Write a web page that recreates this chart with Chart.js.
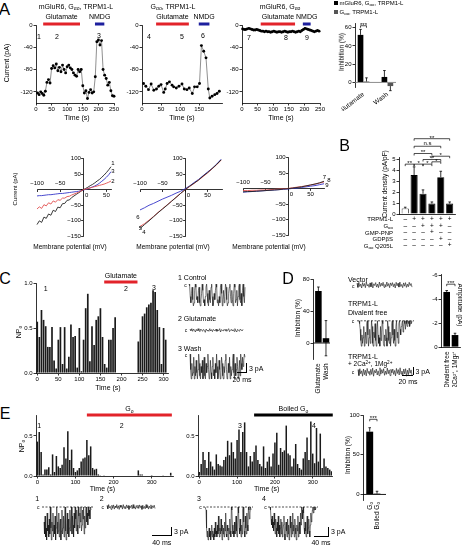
<!DOCTYPE html>
<html lang="en">
<head>
<meta charset="UTF-8">
<title>TRPM1-L currents</title>
<script src="https://cdn.jsdelivr.net/npm/chart.js"></script>
<style>
  html, body { margin: 0; padding: 0; background: #fff; }
  body { position: relative; width: 462px; height: 545px; overflow: hidden; font-family: 'Liberation Sans', Arial, sans-serif; }
  canvas { position: absolute; }
  .lbl { position: absolute; white-space: nowrap; line-height: 1; color: #000; }
  .lbl sub { font-size: 72%; vertical-align: -0.3em; line-height: 0; }
  .lbl sup { font-size: 72%; vertical-align: 0.45em; line-height: 0; }
  .ln { position: absolute; background: #000; }
</style>
</head>
<body>
<script>
// ---- A: holding current over time (s, pA) ----
const a1Time = [5,10,15,20,25,30,35,40,45,50,55,60,65,70,75,80,85,90,95,100,105,110,115,120,125,130,135,140,145,150,155,160,165,170,175,180,185,190,195,200,205,210,215,220,225,230,235,240,245,250];
const a1Cur  = [-122,-125,-120,-123,-126,-119,-103,-98,-104,-78,-73,-77,-70,-82,-76,-84,-72,-80,-86,-75,-72,-77,-80,-86,-90,-92,-80,-84,-80,-109,-122,-118,-132,-121,-116,-122,-120,-93,-30,-27,-36,-28,-80,-90,-96,-108,-103,-118,-127,-128];
const a2Time = [4,10,17,24,31,38,44,50,57,61,66,72,79,83,90,97,105,111,118,124,132,138,145,151,156,162,168,174,178,184,191,197,203];
const a2Cur  = [-105,-110,-116,-106,-117,-115,-110,-107,-121,-115,-105,-102,-108,-111,-113,-110,-106,-115,-116,-113,-123,-111,-111,-105,-37,-47,-59,-115,-131,-128,-125,-123,-119];
const a3Time = [2,7,12,17,22,27,32,37,42,47,52,57,62,67,72,77,82,87,92,97,102,107,112,117,122,127,132,137,142,147,152,157,162,167,172,177,182,187,192,197,202,207,212,217,222,227,232,237,242,247];
const a3Cur  = [-7,-8,-8,-7,-6,-7,-8,-9,-9,-8,-9,-10,-11,-11,-12,-11,-12,-12,-13,-12,-11,-12,-13,-12,-12,-13,-12,-11,-12,-13,-12,-12,-11,-12,-13,-12,-11,-12,-10,-8,-6,-7,-8,-9,-10,-11,-12,-11,-10,-11];
const a1Glu = [23, 141], a1Nmdg = [189, 219];
const a2Glu = [37, 123], a2Nmdg = [149, 177];
const a3Glu = [60, 170], a3Nmdg = [195, 220];

// ---- A: inhibition (%) ----
const inhCats = ['Glutamate', 'Wash'];
const inhFull = [52, 6];   const inhFullErr = [[0, 6], [0, 7]];
const inhNoR  = [1, -4];   const inhNoRErr  = [[0, 4], [-5, 0]];

// ---- A: I-V ramps (mV, pA) ----
const iv1V     = [-100,-95,-90,-85,-80,-75,-70,-65,-60,-55,-50,-45,-40,-35,-30,-25,-20,-15,-10,-5,0,5,10,15,20,25,30,35,40,45,50,55,60];
const iv1Black = [-112,-100,-105,-88,-92,-78,-82,-66,-70,-56,-58,-45,-44,-34,-33,-25,-20,-15,-10,-5,0,4,8,13,17,22,28,33,40,47,55,64,74];
const iv1Red   = [-62,-55,-60,-48,-52,-42,-46,-36,-40,-32,-34,-27,-27,-22,-21,-17,-14,-11,-8,-4,0,2,4,6,8,10,12,14,16,18,21,24,28];
const iv1Blue  = [-20,-19,-19,-18,-17,-16,-16,-15,-14,-13,-12,-12,-11,-10,-9,-8,-7,-6,-5,-3,-1,1,3,6,9,12,16,21,27,33,40,48,58];
const iv2V     = [-100,-90,-80,-70,-60,-50,-40,-30,-20,-10,0,10,20,30,40,50,60,70,80];
const iv2Black = [-125,-112,-100,-87,-74,-62,-50,-37,-25,-12,0,11,21,31,44,55,68,81,96];
const iv2Red   = [-118,-109,-98,-86,-73,-61,-49,-37,-24,-12,0,10,20,31,42,54,67,80,95];
const iv2Blue  = [-65,-58,-50,-44,-37,-30,-24,-18,-11,-5,3,12,23,33,45,57,68,82,98];
const iv3V     = [-100,-90,-80,-70,-60,-50,-40,-30,-20,-10,0,10,20,30,40,50,60,70,80];
const iv3Black = [-10,-9,-9,-8,-7,-6,-5,-4,-3,-1,0,2,4,6,9,12,15,19,24];
const iv3Red   = [-6,-6,-5,-5,-4,-4,-3,-2,-1,0,1,3,5,7,9,12,15,18,22];
const iv3Blue  = [-11,-10,-9,-8,-7,-6,-5,-4,-3,-2,-1,1,2,4,6,8,10,13,16];

// ---- B: current density (pA/pF) ----
const bDensity = [0.5, 3.55, 1.85, 0.95, 3.35, 0.95];
const bErr     = [0.12, 0.75, 0.35, 0.15, 0.55, 0.15];
const bRowNames = ['TRPM1-L', 'G<sub>αo</sub>', 'GMP-PNP', 'GDPβS', 'G<sub>αo</sub> Q205L'];
const bRows = [
  [0,1,1,1,1,1],
  [0,0,1,1,1,0],
  [0,0,0,1,0,0],
  [0,0,0,0,1,0],
  [0,0,0,0,0,1]
];

// ---- C: NPo in 5 s bins ----
const cBin = 5;
const cNPo = [0.57,0.40,0.70,0.59,0.52,0.29,0.29,0.51,0.14,0.05,0.37,0.51,0.10,0.51,0.05,0.18,0.54,0.40,0.41,0.06,
              0.50,0.02,0.37,0.72,0.88,0.13,0.52,0.31,0.59,0.63,0.72,0.40,0.10,0.06,0.37,0.37,0.50,0.62,
              0,0,0,0,0,0,0,0,0,0,
              0.35,0.48,0.63,0.66,0.73,0.76,0.78,0.92,0.90,0.70,0.51,0.10,0.50,0.37];
const cGlu = [159, 238];
const cTrace1 = [0,-0.5,-4,-6,-3,-1,-5,-7,-6,-2,0,-1,-5,-4,-6,-2,-1,-6,-7,-5,-3,0,-2,-6,-5,-7,-4,-1,0,-3,-6,-7,-2,-5,-6,-1,0,-4,-7,-6,-3,-5,-2,0,-1,-6,-5,-7,-4,-6,-1,0,-3,-7,-5,-2,-6,-4,0,-1,-5,-7,-6,-3,-1,0,-4,-6,-2,-5,-7,-3,0,-1,-6,-5,-2,-7,-4,-1,0,-5,-6,-3,-7,-2,0,-4,-6,-1];
const cTrace2 = [0,-0.4,0.2,-0.6,0.1,-0.3,-0.8,0,-0.5,0.2,-0.4,-0.7,0.1,-0.2,-0.6,0,-0.3,-0.9,0.1,-0.4,-0.2,-0.6,0.2,-0.5,-0.1,-0.7,0,-0.3,-0.5,0.1,-0.6,-0.2,-0.4,0.2,-0.8,-0.1,-0.3,-0.5,0,-0.4,0.1,-0.6,-0.2,0.2,-0.7,-0.3,0,-0.5,-0.1,-0.6,0.2,-0.4,-0.8,0,-0.3,-0.6,0.1,-0.2,-0.5,0];
const cTrace3 = [0,-5,-8,-3,-7,-6,-1,-8,-4,-7,-2,-6,-8,-5,0,-3,-7,-8,-4,-6,-2,-8,-5,-1,-7,-8,-3,-6,-4,0,-5,-8,-7,-2,-6,-8,-4,-1,-7,-5,-8,-3,-6,0,-4,-8,-7,-2,-5,-8,-6,-1,-3,-7,-8,-4,-6,-2,0,-5,-8,-7,-3,-6,-1,-8,-4,-7,-5,-2,0,-6,-8,-3,-7,-5,-1,-4,-8,-6,-2,-7,0,-3,-5,-1,-4,-2,0,-1];

// ---- D ----
const dCats = ['Glutamate', 'Wash'];
const dInh = [65, 6];       const dInhErr = [[0, 5], [-22, 22]];
const dAmpCats = ['Divalent free', '+ 2Ca²⁺, 1Mg²⁺'];
const dAmp = [-4.6, -1.0];  const dAmpErr = [[-0.12, 0], [-0.15, 0]];
const dTraceVec = [0.6,-0.8,0.9,-0.5,0.3,-1.0,0.8,-0.4,0.5,-0.9,1.0,-0.3,0.2,-0.8,0.7,-0.6,0.9,-1.0,0.4,-0.2,0.8,-0.7,0.3,-0.9,1.0,-0.5,0.6,-0.3,0.9,-0.8,0.2,-0.6,1.0,-0.4,0.5,-0.9,0.7,-0.2,0.8,-0.6,0.4,-1.0,0.9,-0.3,0.6,-0.7,1.0,-0.5,0.2,-0.9,0.7,-0.4,0.8,-0.8,0.3,-0.6,0.9,-0.2,0.5,-0.7];
const dTraceDiv = [0,-1,-3,-7,-9,-5,-8,-6,-2,-9,-7,-4,-8,-1,0,-5,-9,-6,-3,-8,-7,0,-2,-8,-9,-4,-6,-1,-7,-9,-3,0,-5,-8,-6,-9,-2,-7,-4,0,-1,-8,-9,-5,-7,-3,-6,-9,0,-2,-7,-8,-4,-9,-6,-1,0,-5,-8,-3,-7,-9,-2,0,-6,-4,-8,-1,0,-3,-5,-2,-1,0,-4,-2,0,-1,-3,0,-1,-2,0,-1,0,-2,-1,0,-1,0];
const dTraceCa  = [0.8,-1.2,1.1,-0.6,0.4,-1.4,1.0,-0.9,0.6,-1.3,1.2,-0.4,0.3,-1.1,0.9,-0.8,1.3,-1.4,0.5,-0.3,1.0,-1.0,0.4,-1.2,1.4,-0.7,0.8,-0.4,1.1,-1.1,0.3,-0.8,1.3,-0.6,0.7,-1.2,0.9,-0.3,1.0,-0.8,0.5,-1.3,1.2,-0.5,0.8,-1.0,1.4,-0.7,0.3,-1.2,1.0,-0.6,1.1,-1.4,0.6,-0.9,1.3,-0.4,0.7,-1.1];

// ---- E ----
const eBin = 5;
const e1NPo = [0.43,0.55,0.30,0.02,0.08,0.08,0.11,0.02,0.27,0.05,
               0.25,0.12,0.10,0.14,0.36,0.22,0.56,0.20,0.33,0.10,
               0.05,0.07,0.10,0.18,0.22,0.23,0.45,0.26,0.37,0.10,
               0.08,0.09,0.02,0.01,0,0.01,0,0,0,0,
               0,0,0,0,0,0,0,0,0,0,
               0,0,0,0.07,0.02,0.02,0,0,0,0,
               0.01,0,0,0,0,0,0.01,0,0,0,0.04];
const e2NPo = [0.05,0.15,0.30,0.20,0.10,0.30,0.18,0.12,0.08,0.27,
               0.15,0.13,0.12,0.20,0.24,0.44,0.26,0.42,0.30,0.22,
               0.45,0.58,0.30,0.55,0.67,0.30,0.12,0.25,0.18,0.30,
               0.38,0.20,0.15,0.12,0.37,0.10,0.18,0.24,0.12,0.28,
               0.42,0.54,0.14,0.35,0.30,0.32,0.63,0.28,0.26,0.12,
               0.22,0.40,0.15,0.10,0.08,0.22,0.30,0.48,0.20,0.68,
               0.28,0.16,0.60,0.18,0.53,0.10,0.22,0.12,0.10,0.08,0.06];
const eGo = [130, 353], eBoiled = [145, 353];
const eInh = [79, 1];  const eInhErr = [[0, 5], [0, 3]];
const eTrace1 = [-5,-9,-3,-10,-7,-11,-2,-8,-6,-10,-4,-9,0,-7,-11,-5,-8,-2,-10,-6,-9,-3,-11,-7,0,-5,-9,-8,-2,-10,-6,-4,-11,-8,-1,-9,-7,-3,-10,-5,0,-8,-11,-6,-2,-9,-4,-10,-7,-1,-8,-5,0,-9,-3,-6,-10,-2,-7,0,-4,-8,-1,-6,-9,0,-3,-7,-2,-5,0,-8,-6,-1,-4,0,-9,-3,-7,-1,0,-5,-2,-6,0,-3,-1,-4,0,-1];
const eTrace2 = [0.5,-0.6,0.8,-0.3,0.2,-0.8,0.6,-0.4,0.7,-0.7,0.3,-0.2,0.8,-0.5,0.4,-0.8,0.6,-0.1,0.5,-0.7,0.8,-0.4,0.2,-0.6,0.7,-0.3,0.5,-0.8,0.3,-0.2,0.6,-0.6,0.8,-0.4,0.1,-0.7,0.5,-0.3,0.6,-0.5,0.7,-0.2,0.4,-0.8,0.6,-0.5,0.2,-0.6,0.8,-0.3,0.5,-0.7,0.3,-0.4,0.7,-0.6,0.4,-0.2,0.6,-0.5];
const eTrace3 = [0,0,-1,-7,-10,-8,-11,-9,-7,-10,-8,-11,-9,-6,-10,-8,-9,-11,-7,-10,-5,-9,-8,-10,-6,-9,-3,-8,-10,-7,-9,-4,-8,-11,-6,-9,-7,-10,-5,-8,-2,-9,-10,-6,-8,-11,-7,-9,-4,-8,-10,0,-1,-6,-9,-8,-10,-5,-9,-7,-3,-8,-10,-6,0,-2,-7,-9,-4,-8,-10,-6,-9,-1,0,-5,-8,-10,-3,-7,-9,-2,-6,-8,0,-1,-4,-2,0,-1];
const eTrace4 = [0,-1,-4,-6,-3,-7,-5,-8,-2,-6,-9,-4,-7,-10,-5,-8,-3,-9,-6,-10,-7,-4,-9,-5,-10,-8,-6,-3,-9,-11,-7,-5,-8,-10,-4,-9,-6,-11,-8,-3,-7,-10,-5,-9,-2,-8,-6,-10,-4,-7,-9,-11,-6,-8,-3,-10,-7,-5,-9,-2,-6,0,-1,-4,0,-2,-7,-9,-5,-8,-10,-6,-3,-9,-7,-4,-8,-10,-6,-2,-5,-3,-1,0,-2,0,-1,0,-1,0];

// ---------------------------------------------------------------
const FONT = "'Liberation Sans', Arial, sans-serif";
Chart.defaults.font.family = FONT;
Chart.defaults.font.size = 6;
Chart.defaults.color = '#000';
const RED = '#e2232a', BLUE = '#1d1f9e', IVRED = '#e25050', IVBLUE = '#3535c8', IVBLACK = '#222';

function makeCanvas(plot, m) {
  const left = Math.round(plot.l - m.l), top = Math.round(plot.t - m.t);
  const w = Math.round(plot.r + m.r) - left, h = Math.round(plot.b + m.b) - top;
  const c = document.createElement('canvas');
  c.width = w; c.height = h;
  c.style.left = left + 'px'; c.style.top = top + 'px';
  c.style.width = w + 'px'; c.style.height = h + 'px';
  document.body.appendChild(c);
  return c;
}

function baseOptions(pad, scales) {
  return {
    responsive: false, maintainAspectRatio: false, animation: false, devicePixelRatio: 1, events: [],
    layout: { padding: pad },
    plugins: { legend: { display: false }, tooltip: { enabled: false } },
    scales
  };
}

function axis(min, max, step, fit, horiz, extra = {}) {
  const ax = {
    type: 'linear', min, max,
    ticks: { stepSize: step, includeBounds: false, autoSkip: false, padding: 1, maxRotation: 0, color: '#000', font: { size: 6 } },
    grid: { display: true, drawOnChartArea: false, drawTicks: true, tickLength: 2.5, color: '#000', lineWidth: 0.8 },
    border: { display: true, color: '#000', width: 0.8 }
  };
  if (fit != null) {
    ax.afterFit = s => {
      if (horiz) { s.height = fit; s.paddingLeft = 0; s.paddingRight = 0; }
      else { s.width = fit; s.paddingTop = 0; s.paddingBottom = 0; }
    };
  }
  for (const k in extra) {
    if (extra[k] && typeof extra[k] === 'object' && !Array.isArray(extra[k]) && ax[k] && typeof ax[k] === 'object') Object.assign(ax[k], extra[k]);
    else ax[k] = extra[k];
  }
  return ax;
}

function drawSub(ctx, base, sub, x, y, size, align) {
  ctx.font = size + 'px ' + FONT;
  const wb = ctx.measureText(base).width;
  let ws = 0;
  if (sub) { ctx.font = (size * 0.72) + 'px ' + FONT; ws = ctx.measureText(sub).width; }
  let x0 = x - (wb + ws) / 2;
  if (align === 'right') x0 = x - (wb + ws);
  ctx.textAlign = 'left'; ctx.textBaseline = 'middle';
  ctx.font = size + 'px ' + FONT; ctx.fillText(base, x0, y);
  if (sub) { ctx.font = (size * 0.72) + 'px ' + FONT; ctx.fillText(sub, x0 + wb, y + size * 0.32); }
}

// treatment bars (glutamate, NMDG, Go ...) in time units of the x scale
function treatPlugin(items) {
  return { id: 'treat', afterDraw(chart) {
    const { ctx, chartArea } = chart, xs = chart.scales.x;
    items.forEach(it => {
      const x1 = xs.getPixelForValue(it.from), x2 = xs.getPixelForValue(it.to);
      const y = chartArea.top + it.dy;
      ctx.save();
      ctx.fillStyle = it.color; ctx.fillRect(x1, y - it.h / 2, x2 - x1, it.h);
      ctx.fillStyle = '#000';
      drawSub(ctx, it.text, it.sub, (x1 + x2) / 2, y + it.ldy, 7);
      ctx.restore();
    });
  }};
}

function elX(chart, ref) { return chart.getDatasetMeta(ref[0]).data[ref[1]].x; }

const errPlugin = { id: 'errs', afterDatasetsDraw(chart) {
  const ctx = chart.ctx, ys = chart.scales.y;
  chart.data.datasets.forEach((ds, di) => {
    if (!ds.errs) return;
    chart.getDatasetMeta(di).data.forEach((el, i) => {
      const v = ds.data[i].y, e = ds.errs[i];
      const y1 = ys.getPixelForValue(v + e[0]), y2 = ys.getPixelForValue(v + e[1]);
      ctx.save(); ctx.strokeStyle = '#000'; ctx.lineWidth = 0.8;
      ctx.beginPath(); ctx.moveTo(el.x, y1); ctx.lineTo(el.x, y2);
      if (e[1] !== 0) { ctx.moveTo(el.x - 1.3, y2); ctx.lineTo(el.x + 1.3, y2); }
      if (e[0] !== 0) { ctx.moveTo(el.x - 1.3, y1); ctx.lineTo(el.x + 1.3, y1); }
      ctx.stroke(); ctx.restore();
    });
  });
}};

function zeroPlugin(color) {
  return { id: 'zero', afterDatasetsDraw(chart) {
    const { ctx, chartArea } = chart, y = chart.scales.y.getPixelForValue(0);
    ctx.save(); ctx.strokeStyle = color; ctx.lineWidth = 0.9;
    ctx.beginPath(); ctx.moveTo(chartArea.left, y); ctx.lineTo(chartArea.right, y); ctx.stroke(); ctx.restore();
  }};
}

function bracketPlugin(items) {
  return { id: 'brk', afterDraw(chart) {
    const ctx = chart.ctx, ys = chart.scales.y;
    items.forEach(b => {
      const xa = elX(chart, b.a), xb = elX(chart, b.b), y = ys.getPixelForValue(b.y);
      ctx.save(); ctx.strokeStyle = '#000'; ctx.lineWidth = 0.7;
      ctx.beginPath(); ctx.moveTo(xa, y + 2); ctx.lineTo(xa, y); ctx.lineTo(xb, y); ctx.lineTo(xb, y + 2); ctx.stroke();
      ctx.fillStyle = '#000'; ctx.font = '6px ' + FONT; ctx.textAlign = 'center'; ctx.textBaseline = 'bottom';
      ctx.fillText(b.text, (xa + xb) / 2, y + (b.text.includes('*') ? 2.2 : -0.3));
      ctx.restore();
    });
  }};
}

// ---------- A: time courses ----------
function timeCourse(plot, t, cur, xmax, xLabelMax, glu, nmdg) {
  const m = { l: 24, t: 14, r: 7, b: 10 };
  new Chart(makeCanvas(plot, m), {
    type: 'line',
    data: { datasets: [{ data: t.map((x, i) => ({ x, y: cur[i] })), borderColor: '#444', borderWidth: 0.6,
      pointRadius: 1.45, pointBackgroundColor: '#000', pointBorderWidth: 0, tension: 0, clip: false }] },
    options: baseOptions({ top: m.t, right: m.r, left: 0, bottom: 0 }, {
      x: axis(0, xmax, 50, m.b, true, { ticks: { padding: 0 }, afterBuildTicks: s => { s.ticks = s.ticks.filter(k => k.value <= xLabelMax); } }),
      y: axis(-140, 0, 40, m.l, false)
    }),
    plugins: [treatPlugin([
      { from: glu[0], to: glu[1], color: RED, text: 'Glutamate', dy: -1, h: 3, ldy: -7 },
      { from: nmdg[0], to: nmdg[1], color: BLUE, text: 'NMDG', dy: -1, h: 3, ldy: -7 }
    ])]
  });
}
timeCourse({ l: 36, t: 25, r: 114, b: 103 }, a1Time, a1Cur, 250, 250, a1Glu, a1Nmdg);
timeCourse({ l: 142, t: 25, r: 222, b: 103 }, a2Time, a2Cur, 210, 150, a2Glu, a2Nmdg);
timeCourse({ l: 242, t: 25, r: 320, b: 103 }, a3Time, a3Cur, 250, 250, a3Glu, a3Nmdg);

// ---------- A: inhibition bars ----------
(function () {
  const plot = { l: 355, t: 23, r: 396, b: 87 }, m = { l: 14, t: 8, r: 6, b: 24 };
  new Chart(makeCanvas(plot, m), {
    type: 'bar',
    data: { datasets: [
      { data: inhFull.map((v, i) => ({ x: i + 1, y: v })), backgroundColor: '#000', errs: inhFullErr, barPercentage: 0.95, categoryPercentage: 0.5 },
      { data: inhNoR.map((v, i) => ({ x: i + 1, y: v })), backgroundColor: '#555', errs: inhNoRErr, barPercentage: 0.95, categoryPercentage: 0.5 }
    ] },
    options: baseOptions({ top: m.t, right: m.r, left: 0, bottom: 0 }, {
      x: axis(0.644, 2.36, 1, m.b, true, { offset: false, grid: { display: false, offset: false }, border: { display: false },
        ticks: { minRotation: 38, maxRotation: 38, padding: 1, font: { size: 6.5 }, callback: v => inhCats[v - 1] },
        afterBuildTicks: s => { s.ticks = [{ value: 1 }, { value: 2 }]; } }),
      y: axis(-5, 65, 20, m.l, false)
    }),
    plugins: [zeroPlugin('#808080'), errPlugin, bracketPlugin([{ a: [0, 0], b: [1, 0], y: 62, text: '***' }])]
  });
})();

// ---------- A: I-V plots ----------
const minus = v => (v < 0 ? '−' + Math.abs(v) : String(v));
function ivPlot(plot, xmin, xmax, curves) {
  const pad = { left: 24, top: 4, right: 8, bottom: 4 };
  const m = { l: pad.left, t: pad.top, r: pad.right, b: pad.bottom };
  const common = { offset: false, grid: { drawOnChartArea: false, tickLength: 2, lineWidth: 0.8, color: '#000' } };
  new Chart(makeCanvas(plot, m), {
    type: 'line',
    data: { datasets: curves.map(cv => ({ data: cv.v.map((x, i) => ({ x, y: cv.i[i] })), borderColor: cv.color, borderWidth: 0.9, pointRadius: 0, tension: 0, clip: false })) },
    options: baseOptions(pad, {
      x: axis(xmin, xmax, 50, null, true, Object.assign({ position: { y: 0 },
        ticks: { padding: 0, callback: v => (v === 0 ? '\u2007\u20070' : minus(v)) },
        afterBuildTicks: s => { s.ticks = s.ticks.filter(k => k.value >= 0); } }, common)),
      x2: axis(xmin, xmax, 50, null, true, Object.assign({ position: { y: 0 }, border: { display: false },
        ticks: { padding: -12, callback: v => minus(v) },
        afterBuildTicks: s => { s.ticks = s.ticks.filter(k => k.value < 0); } }, common)),
      y: axis(-150, 100, 50, null, false, Object.assign({ position: { x: 0 },
        ticks: { padding: 2, callback: v => (v === 0 ? '' : minus(v) + '\u2009\u2009') } }, common))
    })
  });
}
ivPlot({ l: 37, t: 157, r: 111, b: 238 }, -100, 60, [
  { v: iv1V, i: iv1Red, color: IVRED }, { v: iv1V, i: iv1Black, color: IVBLACK }, { v: iv1V, i: iv1Blue, color: IVBLUE }]);
ivPlot({ l: 140, t: 157, r: 222, b: 238 }, -100, 82, [
  { v: iv2V, i: iv2Black, color: IVBLACK }, { v: iv2V, i: iv2Red, color: IVRED }, { v: iv2V, i: iv2Blue, color: IVBLUE }]);
ivPlot({ l: 243, t: 156, r: 324, b: 237 }, -100, 80, [
  { v: iv3V, i: iv3Black, color: IVBLACK }, { v: iv3V, i: iv3Red, color: IVRED }, { v: iv3V, i: iv3Blue, color: IVBLUE }]);

// ---------- B: current density ----------
(function () {
  const plot = { l: 399, t: 157, r: 455, b: 214 }, m = { l: 14, t: 24, r: 6, b: 38 };
  const brackets = [
    { a: [0, 0], b: [0, 1], y: 4.55, text: '**' }, { a: [0, 1], b: [0, 2], y: 4.55, text: '*' },
    { a: [0, 2], b: [0, 3], y: 4.55, text: '*' },  { a: [0, 3], b: [0, 4], y: 4.76, text: '*' },
    { a: [0, 2], b: [0, 4], y: 4.97, text: '**' }, { a: [0, 3], b: [0, 5], y: 5.27, text: '*' },
    { a: [0, 1], b: [0, 3], y: 5.52, text: '**' }, { a: [0, 1], b: [0, 4], y: 6.18, text: 'n.s' },
    { a: [0, 1], b: [0, 5], y: 6.87, text: '**' }
  ];
  const tablePlugin = { id: 'tbl', afterDraw(chart) {
    const { ctx, chartArea } = chart;
    ctx.save(); ctx.fillStyle = '#000'; ctx.font = '6.5px ' + FONT; ctx.textAlign = 'center'; ctx.textBaseline = 'middle';
    bRows.forEach((row, ri) => row.forEach((on, i) => {
      ctx.fillText(on ? '+' : '–', elX(chart, [0, i]), chartArea.bottom + 5.2 + ri * 6.6);
    }));
    ctx.restore();
  }};
  new Chart(makeCanvas(plot, m), {
    type: 'bar',
    data: { datasets: [{ data: bDensity.map((v, i) => ({ x: i + 1, y: v })), errs: bErr.map(e => [0, e]),
      backgroundColor: bDensity.map((v, i) => (i === 0 ? '#fff' : '#000')), borderColor: '#000', borderWidth: 0.8,
      barPercentage: 0.8, categoryPercentage: 1 }] },
    options: baseOptions({ top: m.t, right: m.r, left: 0, bottom: 0 }, {
      x: axis(0.3, 6.6, 1, m.b, true, { offset: false, grid: { display: false, offset: false }, ticks: { display: false } }),
      y: axis(0, 5.2, 1, m.l, false)
    }),
    plugins: [errPlugin, bracketPlugin(brackets), tablePlugin]
  });
})();

// ---------- NPo histograms ----------
function npoHist(plot, m, vals, bin, xmin, xmax, xstep, ymax, treat) {
  new Chart(makeCanvas(plot, m), {
    type: 'bar',
    data: { datasets: [{ data: vals.map((v, i) => ({ x: i * bin, y: v })), backgroundColor: '#1a1a1a', barPercentage: 0.8, categoryPercentage: 1 }] },
    options: baseOptions({ top: m.t, right: m.r, left: 0, bottom: 0 }, {
      x: axis(xmin, xmax, xstep, m.b, true, { offset: false, grid: { offset: false }, ticks: { padding: 0 } }),
      y: axis(0, ymax, 0.5, m.l, false, { ticks: { callback: v => v.toFixed(1) } })
    }),
    plugins: [treatPlugin(treat)]
  });
}
npoHist({ l: 36, t: 283, r: 168, b: 373 }, { l: 20, t: 13, r: 5, b: 10 }, cNPo, cBin, -3, 310.5, 50, 1.0,
  [{ from: cGlu[0], to: cGlu[1], color: RED, text: 'Glutamate', dy: -1, h: 3, ldy: -5.8 }]);
npoHist({ l: 36, t: 415, r: 173, b: 476 }, { l: 20, t: 11, r: 5, b: 10 }, e1NPo, eBin, -3.5, 356, 100, 0.7625,
  [{ from: eGo[0], to: eGo[1], color: RED, text: 'G', sub: 'o', dy: 0, h: 3, ldy: -5.5 }]);
npoHist({ l: 198, t: 415, r: 332, b: 476 }, { l: 20, t: 11, r: 5, b: 10 }, e2NPo, eBin, -3.4, 351, 100, 0.7625,
  [{ from: eBoiled[0], to: eBoiled[1], color: '#000', text: 'Boiled G', sub: 'o', dy: 0, h: 3, ldy: -5.5 }]);

// ---------- small inhibition / amplitude bars ----------
function smallBars(plot, m, vals, errs, xmin, xmax, ymin, ymax, step, opt) {
  const labelPlugin = { id: 'rotLbl', afterDraw(chart) {
    if (!opt.rotLabels) return;
    const { ctx, chartArea } = chart;
    opt.rotLabels.forEach((lb, i) => {
      ctx.save(); ctx.fillStyle = '#000';
      ctx.translate(elX(chart, [0, i]), chartArea.bottom + 2);
      ctx.rotate(-Math.PI / 2);
      drawSub(ctx, lb[0], lb[1], 0, 0, 6.5, 'right');
      ctx.restore();
    });
  }};
  const plugins = [errPlugin, labelPlugin];
  if (opt.zero) plugins.unshift(zeroPlugin('#000'));
  if (opt.brk) plugins.push(bracketPlugin(opt.brk));
  new Chart(makeCanvas(plot, m), {
    type: 'bar',
    data: { datasets: [{ data: vals.map((v, i) => ({ x: i + 1, y: v })), errs, backgroundColor: '#000', barPercentage: opt.bp, categoryPercentage: 1 }] },
    options: baseOptions({ top: m.t, right: m.r, left: 0, bottom: 0 }, {
      x: axis(xmin, xmax, 1, m.b, true, { offset: false, grid: { display: false, offset: false }, border: { display: !opt.zero },
        ticks: { display: !!opt.cats, minRotation: 90, maxRotation: 90, padding: 2, font: { size: 6.5 }, callback: v => (opt.cats ? opt.cats[v - 1] : '') },
        afterBuildTicks: s => { s.ticks = vals.map((v, i) => ({ value: i + 1 })); } }),
      y: axis(ymin, ymax, step, m.l, false, { reverse: !!opt.reverse })
    }),
    plugins
  });
}
smallBars({ l: 313, t: 279, r: 330, b: 359 }, { l: 14, t: 4, r: 4, b: 36 }, dInh, dInhErr, 0.29, 2.53, -20, 80, 40,
  { zero: true, cats: dCats, bp: 0.86 });
smallBars({ l: 441, t: 274, r: 460, b: 347 }, { l: 12, t: 12, r: 2, b: 40 }, dAmp, dAmpErr, 0.313, 2.6, -6.1, 0, 2,
  { reverse: true, cats: dAmpCats, bp: 0.8, brk: [{ a: [0, 0], b: [0, 1], y: -5.25, text: '***' }] });
smallBars({ l: 363, t: 415, r: 386, b: 500 }, { l: 14, t: 6, r: 4, b: 42 }, eInh, eInhErr, 0.082, 3.23, -7, 100, 50,
  { zero: true, bp: 0.95, rotLabels: [['G', 'o'], ['Boiled G', 'o']], brk: [{ a: [0, 0], b: [0, 1], y: 94.6, text: '***' }] });

// ---------- single-channel traces ----------
const dashPlugin = { id: 'dash', beforeDatasetsDraw(chart) {
  const { ctx, chartArea } = chart, y = chart.scales.y.getPixelForValue(0);
  ctx.save(); ctx.strokeStyle = '#000'; ctx.lineWidth = 0.7; ctx.setLineDash([2, 1.5]);
  ctx.beginPath(); ctx.moveTo(chartArea.left - 2, y); ctx.lineTo(chartArea.right + 2, y); ctx.stroke(); ctx.restore();
}};
function trace(vals, l, r, y0, ppu, vmin, vmax, dashed) {
  const plot = { l, r, t: y0 - vmax * ppu, b: y0 - vmin * ppu }, m = { l: 3, t: 1, r: 3, b: 1 };
  new Chart(makeCanvas(plot, m), {
    type: 'line',
    data: { datasets: [{ data: vals.map((v, i) => ({ x: i, y: v })), borderColor: '#151515', borderWidth: 0.6, pointRadius: 0, tension: 0, clip: false }] },
    options: baseOptions({ left: m.l, top: m.t, right: m.r, bottom: m.b }, {
      x: { type: 'linear', display: false, min: 0, max: vals.length - 1 },
      y: { type: 'linear', display: false, min: vmin, max: vmax }
    }),
    plugins: dashed ? [dashPlugin] : []
  });
}
trace(cTrace1, 189, 245, 284.5, 3.1, -8, 1);
trace(cTrace2, 190, 243, 329.5, 3.1, -2, 1);
trace(cTrace3, 190, 245, 354.5, 3.1, -9, 1);
trace(dTraceVec, 357, 412, 285, 2.8, -2, 2);
trace(dTraceDiv, 359, 412, 320.7, 2.8, -10, 1, true);
trace(dTraceCa, 358, 412, 372, 2.8, -2, 2);
trace(eTrace1, 44, 91, 506.7, 3, -12, 1, true);
trace(eTrace2, 107, 155, 506.7, 3, -2, 1);
trace(eTrace3, 205, 251, 506.7, 3, -12, 1, true);
trace(eTrace4, 270, 316, 506.7, 3, -12, 1, true);

// ---------- text and scale bars ----------
function L(html, x, y, size, align, rot) {
  const d = document.createElement('div');
  d.className = 'lbl';
  d.innerHTML = html;
  d.style.left = x + 'px'; d.style.top = y + 'px'; d.style.fontSize = size + 'px';
  const ax = align === 'left' ? '0' : align === 'right' ? '-100%' : '-50%';
  d.style.transform = 'translate(' + ax + ', -50%)' + (rot ? ' rotate(' + rot + 'deg)' : '');
  document.body.appendChild(d);
}
function box(x, y, w, h, color) {
  const d = document.createElement('div');
  d.className = 'ln';
  d.style.left = x + 'px'; d.style.top = y + 'px'; d.style.width = w + 'px'; d.style.height = h + 'px';
  if (color) d.style.background = color;
  document.body.appendChild(d);
}
function scaleBar(xv, yTop, yBot, xLeft) { box(xv - 0.5, yTop, 1, yBot - yTop + 0.5); box(xLeft, yBot - 0.5, xv - xLeft, 1); }

const G = 'G<sub>αo</sub>';
L('A', 4.5, 9, 17); L('B', 344.5, 146, 16); L('C', 5, 279, 16); L('D', 288, 279, 16); L('E', 5, 413.5, 16);
L('mGluR6, ' + G + ', TRPM1-L', 76, 6, 7); L(G + ', TRPM1-L', 173, 6, 7); L('mGluR6, ' + G, 280, 6, 7);
[['1', 39, 36], ['2', 57, 36], ['3', 99, 35], ['4', 149, 36], ['5', 182, 36], ['6', 203, 35], ['7', 249, 37], ['8', 286, 37], ['9', 307, 37]]
  .forEach(n => L(n[0], n[1], n[2], 7));
L('Time (s)', 77, 117, 7); L('Time (s)', 182, 117, 7); L('Time (s)', 281, 117, 7);
L('Current (pA)', 6, 63, 7, 'c', -90);
box(334, 1, 3.5, 3.5); box(334, 10, 3.5, 3.5, '#555');
L('mGluR6, ' + G + ', TRPM1-L', 339.5, 2.8, 6, 'left'); L(G + ', TRPM1-L', 339.5, 11.8, 6, 'left');
L('Inhibition (%)', 341.5, 52, 6.5, 'c', -90);

L('Current (pA)', 15, 189, 6, 'c', -90);
L('Membrane potential (mV)', 70, 246.5, 6.5); L('Membrane potential (mV)', 173, 246.5, 6.5); L('Membrane potential (mV)', 269, 246.5, 6.5);
[['1', 113, 162.7], ['3', 113, 171], ['2', 113, 181], ['6', 138, 216.7], ['5', 140.5, 227.5], ['4', 144, 232], ['7', 324.5, 177.3], ['8', 329, 179.5], ['9', 327, 184.5]]
  .forEach(n => L(n[0], n[1], n[2], 6));

L('Current density (pA/pF)', 385, 184, 6.5, 'c', -90);
bRowNames.forEach((nm, i) => L(nm, 393, 219.3 + i * 6.6, 6, 'right'));

L('NP<sub>o</sub>', 18, 332, 7, 'c', -90); L('Time (s)', 108, 387.3, 7);
L('1', 45.7, 287.7, 7); L('2', 126, 287.7, 7); L('3', 154, 286.7, 7);
L('1 Control', 178, 277, 7, 'left'); L('2 Glutamate', 178, 318.3, 7, 'left'); L('3 Wash', 178, 348.3, 7, 'left');
L('c', 185.5, 284.5, 5); L('c', 186, 329.5, 5); L('c', 186, 355, 5);
scaleBar(246.7, 363.3, 372.7, 236.7); L('3 pA', 249, 368, 7, 'left'); L('20 ms', 242, 379, 7);

L('Inhibition (%)', 298.3, 318, 6.5, 'c', -90);
L('Vector', 348, 279.3, 7, 'left'); L('c', 353.3, 286, 5);
L('TRPM1-L', 348, 303.3, 7, 'left'); L('Divalent free', 348, 311.7, 7, 'left'); L('c', 353, 320.7, 5);
L('TRPM1-L', 348, 356, 7, 'left'); L('+ 2Ca<sup>2+</sup>, 1Mg<sup>2+</sup>', 348, 364, 6.5, 'left'); L('c', 353, 372, 5);
scaleBar(413.3, 366.7, 375, 401.7); L('3 pA', 415.5, 370.5, 7, 'left'); L('20 ms', 408, 380.5, 7);
L('Amplitude (pA)', 460, 305, 6.5, 'c', 90);

L('NP<sub>o</sub>', 20.7, 446, 7, 'c', -90); L('Time (s)', 102.5, 488, 7); L('Time (s)', 266.7, 488, 7);
L('1', 39.3, 425, 7); L('2', 121.7, 425, 7); L('3', 240, 425, 7); L('4', 314, 425, 7);
L('1', 37.3, 497.7, 7); L('c', 38.3, 506.7, 5); L('2', 101.7, 497.7, 7); L('c', 102.7, 506.7, 5);
L('3', 199, 498.3, 7); L('c', 200.5, 506.7, 5); L('4', 264, 498.3, 7); L('c', 265.5, 506.7, 5);
scaleBar(171.7, 526.7, 535, 151.7); L('3 pA', 174, 531, 7, 'left'); L('40 ms', 161.7, 541.5, 7);
scaleBar(328.3, 526.5, 536.7, 313.5); L('3 pA', 331, 531, 7, 'left'); L('40 ms', 321, 542, 7);
L('Inhibition (%)', 348.3, 455, 6.5, 'c', -90);
</script>
</body>
</html>
